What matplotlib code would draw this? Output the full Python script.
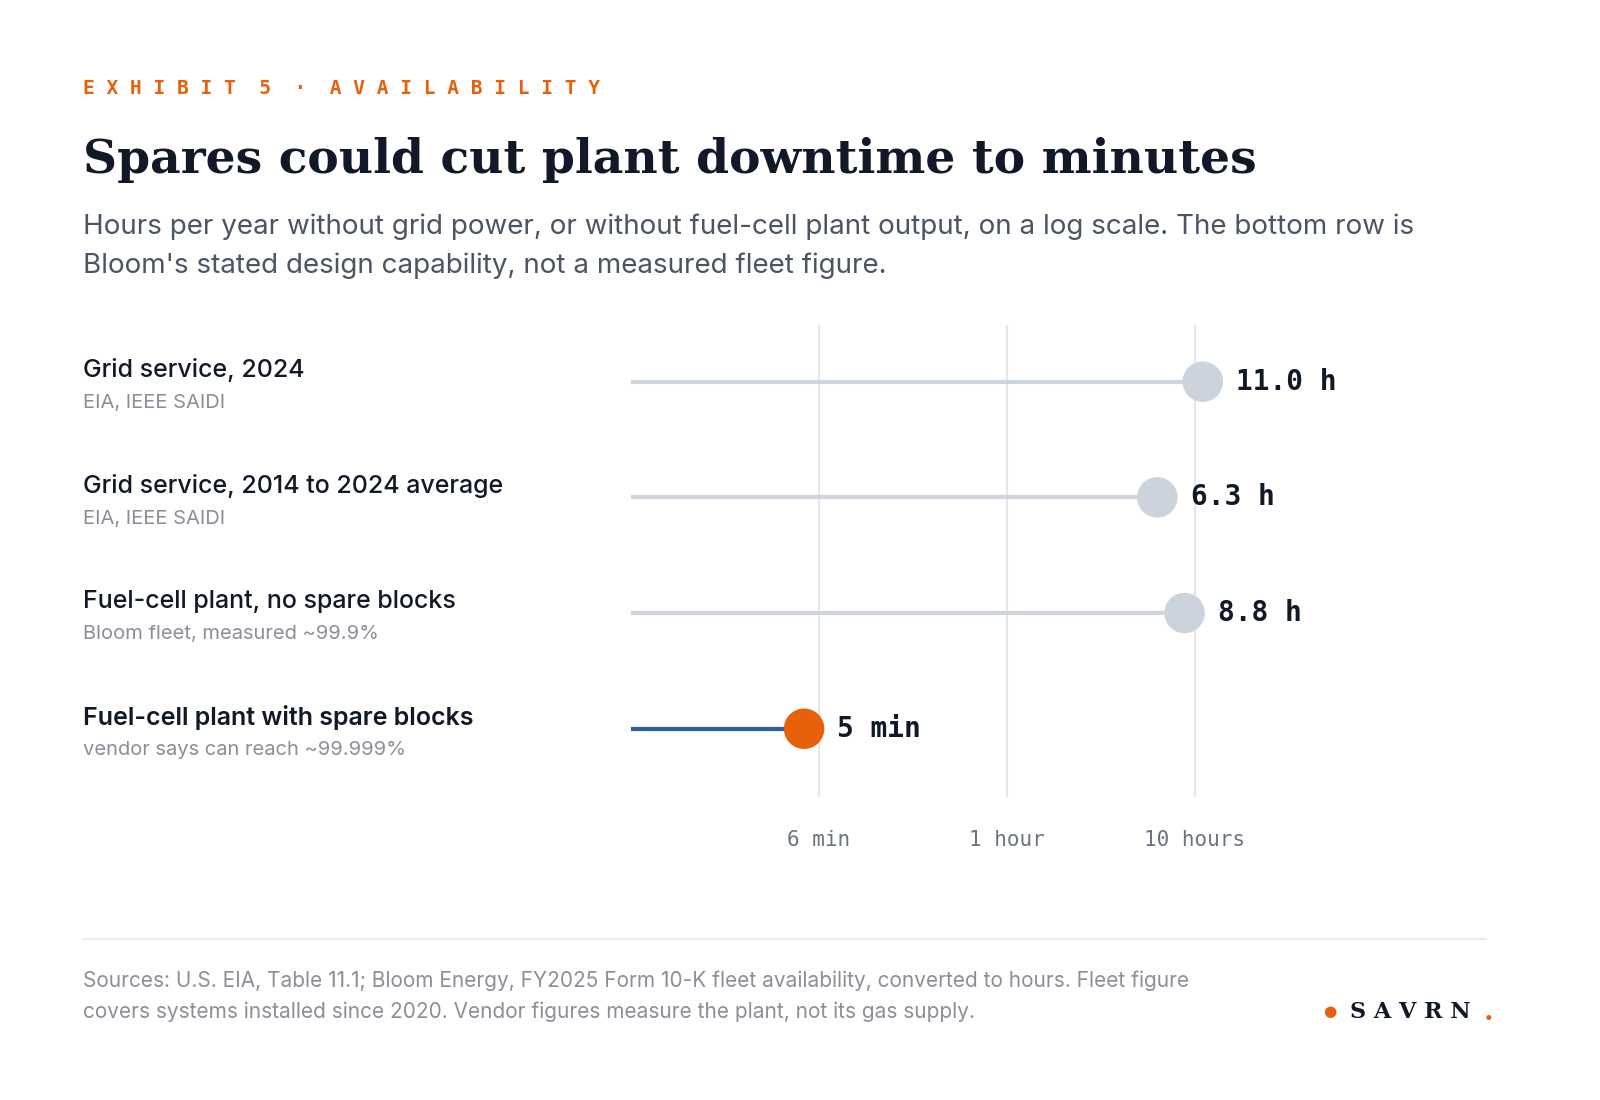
import numpy as np
import matplotlib.pyplot as plt

labels = ["Grid service, 2024", "Grid service, 2014 to 2024 average",
          "Fuel-cell plant, no spare blocks", "Fuel-cell plant with spare blocks"]
sources = ["EIA, IEEE SAIDI", "EIA, IEEE SAIDI",
           "Bloom fleet, measured ~99.9%", "vendor says can reach ~99.999%"]
hours = [11.0, 6.3, 8.8, 5 / 60]
value_text = ["11.0 h", "6.3 h", "8.8 h", "5 min"]
tick_vals = [0.1, 1, 10]
tick_text = ["6 min", "1 hour", "10 hours"]

W, H = 1600, 1100
fig = plt.figure(figsize=(16, 11), dpi=100)
fig.patch.set_facecolor("white")

def fx(px): return px / W
def fy(py): return 1 - py / H

orange = "#e8610a"
dark = "#111827"
grey = "#4b5563"
light = "#8a8f98"

fig.text(fx(83), fy(88), "E X H I B I T  5  ·  A V A I L A B I L I T Y", color=orange,
         fontsize=14, family="DejaVu Sans Mono", fontweight="bold", va="center")
fig.text(fx(83), fy(160), "Spares could cut plant downtime to minutes", color=dark,
         fontsize=34, family="DejaVu Serif", fontweight="bold", va="center")
fig.text(fx(83), fy(227), "Hours per year without grid power, or without fuel-cell plant output, on a log scale. The bottom row is",
         color=grey, fontsize=20, family="Inter", va="center")
fig.text(fx(83), fy(266), "Bloom's stated design capability, not a measured fleet figure.",
         color=grey, fontsize=20, family="Inter", va="center")

ax = fig.add_axes([fx(631), fy(797), fx(1383) - fx(631), fy(325) - fy(797)])
ax.set_xscale("log")
ax.set_xlim(0.01, 100)
ax.set_ylim(3.59, -0.49)
for t in tick_vals:
    ax.axvline(t, color="#e5e7eb", lw=1.5, zorder=0)
for i, h in enumerate(hours):
    last = i == len(hours) - 1
    lc = "#2f5f9e" if last else "#cfd5dc"
    mc = orange if last else "#cbd4dd"
    ax.plot([0.01, h], [i, i], color=lc, lw=3, solid_capstyle="butt", zorder=2)
    ax.scatter([h], [i], s=850, color=mc, zorder=3, edgecolors="none")
    ax.annotate(value_text[i], (h, i), xytext=(24, 0), textcoords="offset points",
                va="center", ha="left", fontsize=20, family="DejaVu Sans Mono",
                color=dark, fontweight="bold")
    yp = 370 + i * 115.7
    fig.text(fx(83), fy(yp), labels[i], fontsize=18, family="Inter",
             color=dark, va="center", fontweight="semibold" if last else "medium")
    fig.text(fx(83), fy(yp + 33), sources[i], fontsize=14.5, family="Inter",
             color=light, va="center")
ax.set_xticks(tick_vals)
ax.set_xticklabels(tick_text, family="DejaVu Sans Mono", fontsize=15, color="#6b7280")
ax.xaxis.set_minor_locator(plt.NullLocator())
ax.tick_params(axis="x", length=0, pad=24)
ax.set_yticks([])
for s in ax.spines.values():
    s.set_visible(False)
ax.patch.set_alpha(0)

fig.add_artist(plt.Line2D([fx(83), fx(1486)], [fy(939), fy(939)], color="#e5e7eb", lw=1.2))
fig.text(fx(83), fy(981), "Sources: U.S. EIA, Table 11.1; Bloom Energy, FY2025 Form 10-K fleet availability, converted to hours. Fleet figure",
         fontsize=15, family="Inter", color=light, va="center")
fig.text(fx(83), fy(1012), "covers systems installed since 2020. Vendor figures measure the plant, not its gas supply.",
         fontsize=15, family="Inter", color=light, va="center")
fig.text(fx(1330), fy(1012), "●", color=orange, fontsize=11, va="center", ha="center")
fig.text(fx(1350), fy(1012), "S A V R N", color=dark, fontsize=16, family="DejaVu Serif",
         fontweight="bold", va="center", ha="left")
fig.text(fx(1484), fy(1020), ".", color=orange, fontsize=20, family="DejaVu Serif",
         fontweight="bold", va="baseline", ha="left")

fig.savefig("out.png", dpi=100)
